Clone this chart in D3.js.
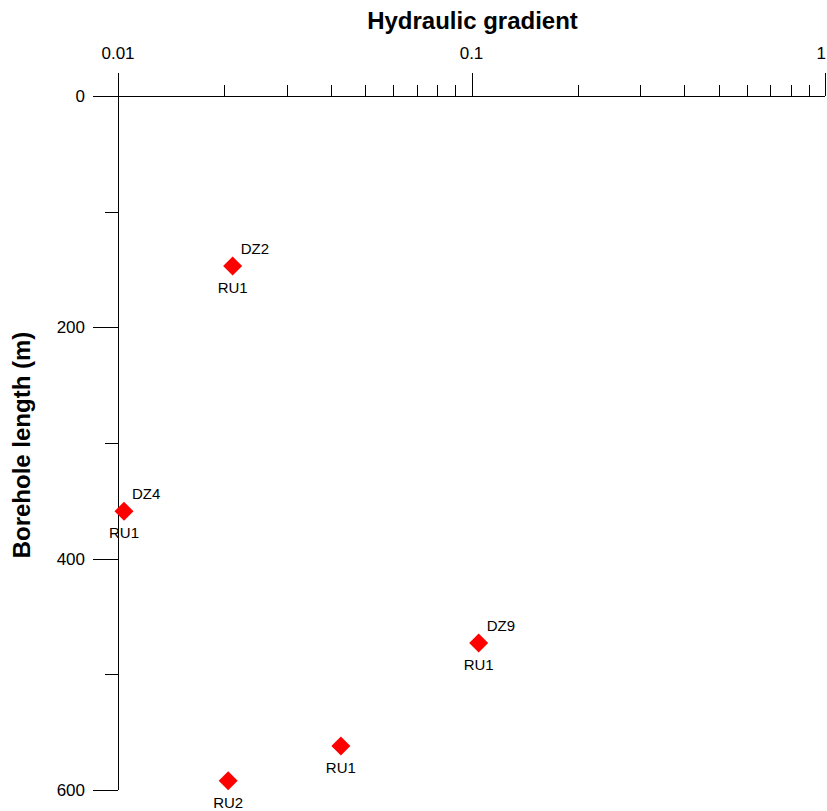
<!DOCTYPE html>
<html>
<head>
<meta charset="utf-8">
<script src="https://cdn.jsdelivr.net/npm/d3@7"></script>
<style>
  html, body { margin: 0; padding: 0; background: #fff; }
  svg { display: block; font-family: "Liberation Sans", Arial, sans-serif; }
</style>
</head>
<body>
<svg id="chart" width="827" height="811"></svg>
<script>
// Hydraulic gradient measured at borehole sections
const gradient = [0.0211, 0.0104, 0.1048, 0.0427, 0.0205];
const boreholeLength = [147, 359, 473, 562, 592];
const upperLabels = ["DZ2", "DZ4", "DZ9", "", ""];
const lowerLabels = ["RU1", "RU1", "RU1", "RU1", "RU2"];

const xTickValues = [0.01, 0.1, 1];
const xTickLabels = ["0.01", "0.1", "1"];
const yTickValues = [0, 200, 400, 600];

const W = 827;
const svg = d3.select("#chart");
const plotL = 118, plotR = 825, plotT = 96, plotB = 790;

const x = d3.scaleLog().domain([0.01, 1]).range([plotL, plotR]);
const y = d3.scaleLinear().domain([0, 600]).range([plotT, plotB]);

// Top logarithmic axis: majors at decades, minors at 2..9
const minorX = [];
[0.01, 0.1].forEach(d => { for (let k = 2; k <= 9; k++) minorX.push(d * k); });

const gx = svg.append("g");
gx.append("line")
  .attr("x1", plotL).attr("x2", plotR).attr("y1", plotT + 0.5).attr("y2", plotT + 0.5)
  .attr("stroke", "#000").attr("stroke-width", 1);
gx.selectAll("line.minor").data(minorX).join("line")
  .attr("class", "minor")
  .attr("x1", d => Math.round(x(d)) + 0.5).attr("x2", d => Math.round(x(d)) + 0.5)
  .attr("y1", plotT).attr("y2", plotT - 11)
  .attr("stroke", "#000").attr("stroke-width", 1);
gx.selectAll("line.major").data(xTickValues).join("line")
  .attr("class", "major")
  .attr("x1", d => Math.round(x(d)) + 0.5).attr("x2", d => Math.round(x(d)) + 0.5)
  .attr("y1", plotT).attr("y2", plotT - 23)
  .attr("stroke", "#000").attr("stroke-width", 1);
gx.selectAll("text").data(xTickValues).join("text")
  .attr("y", 59)
  .attr("text-anchor", "middle")
  .attr("font-size", 17)
  .text((d, i) => xTickLabels[i])
  .attr("x", function (d) {
    // keep the label inside the page at the right edge
    const half = this.getComputedTextLength() / 2;
    return Math.min(x(d), W - 1 - half);
  });

svg.append("text")
  .attr("x", 472.5).attr("y", 29)
  .attr("text-anchor", "middle")
  .attr("font-size", 24).attr("font-weight", "bold")
  .text("Hydraulic gradient");

// Left linear axis (depth increases downward)
const gy = svg.append("g");
gy.append("line")
  .attr("x1", plotL + 0.5).attr("x2", plotL + 0.5).attr("y1", plotT - 23).attr("y2", plotB)
  .attr("stroke", "#000").attr("stroke-width", 1);
const yAll = d3.range(0, 601, 100);
gy.selectAll("line.tick").data(yAll).join("line")
  .attr("class", "tick")
  .attr("x1", d => yTickValues.includes(d) ? plotL - 25 : plotL - 13)
  .attr("x2", plotL)
  .attr("y1", d => Math.round(y(d)) + 0.5).attr("y2", d => Math.round(y(d)) + 0.5)
  .attr("stroke", "#000").attr("stroke-width", 1);
gy.selectAll("text").data(yTickValues).join("text")
  .attr("x", 85).attr("y", d => y(d))
  .attr("dy", "0.35em")
  .attr("text-anchor", "end")
  .attr("font-size", 17)
  .text(d => d);

svg.append("text")
  .attr("transform", "translate(30,445) rotate(-90)")
  .attr("text-anchor", "middle")
  .attr("font-size", 24).attr("font-weight", "bold")
  .text("Borehole length (m)");

// Points: red diamonds with zone labels
const pts = gradient.map((g, i) => ({ g, L: boreholeLength[i], up: upperLabels[i], lo: lowerLabels[i] }));
const diamond = "M0,-9.5L9.5,0L0,9.5L-9.5,0Z";
const gp = svg.append("g");
const pg = gp.selectAll("g").data(pts).join("g")
  .attr("transform", d => `translate(${x(d.g)},${y(d.L)})`);
pg.append("path").attr("d", diamond).attr("fill", "#ff0000");
pg.append("text")
  .attr("x", 8).attr("y", -12)
  .attr("font-size", 15)
  .text(d => d.up);
pg.append("text")
  .attr("x", 0).attr("y", 27)
  .attr("text-anchor", "middle")
  .attr("font-size", 15)
  .text(d => d.lo);
</script>
</body>
</html>
